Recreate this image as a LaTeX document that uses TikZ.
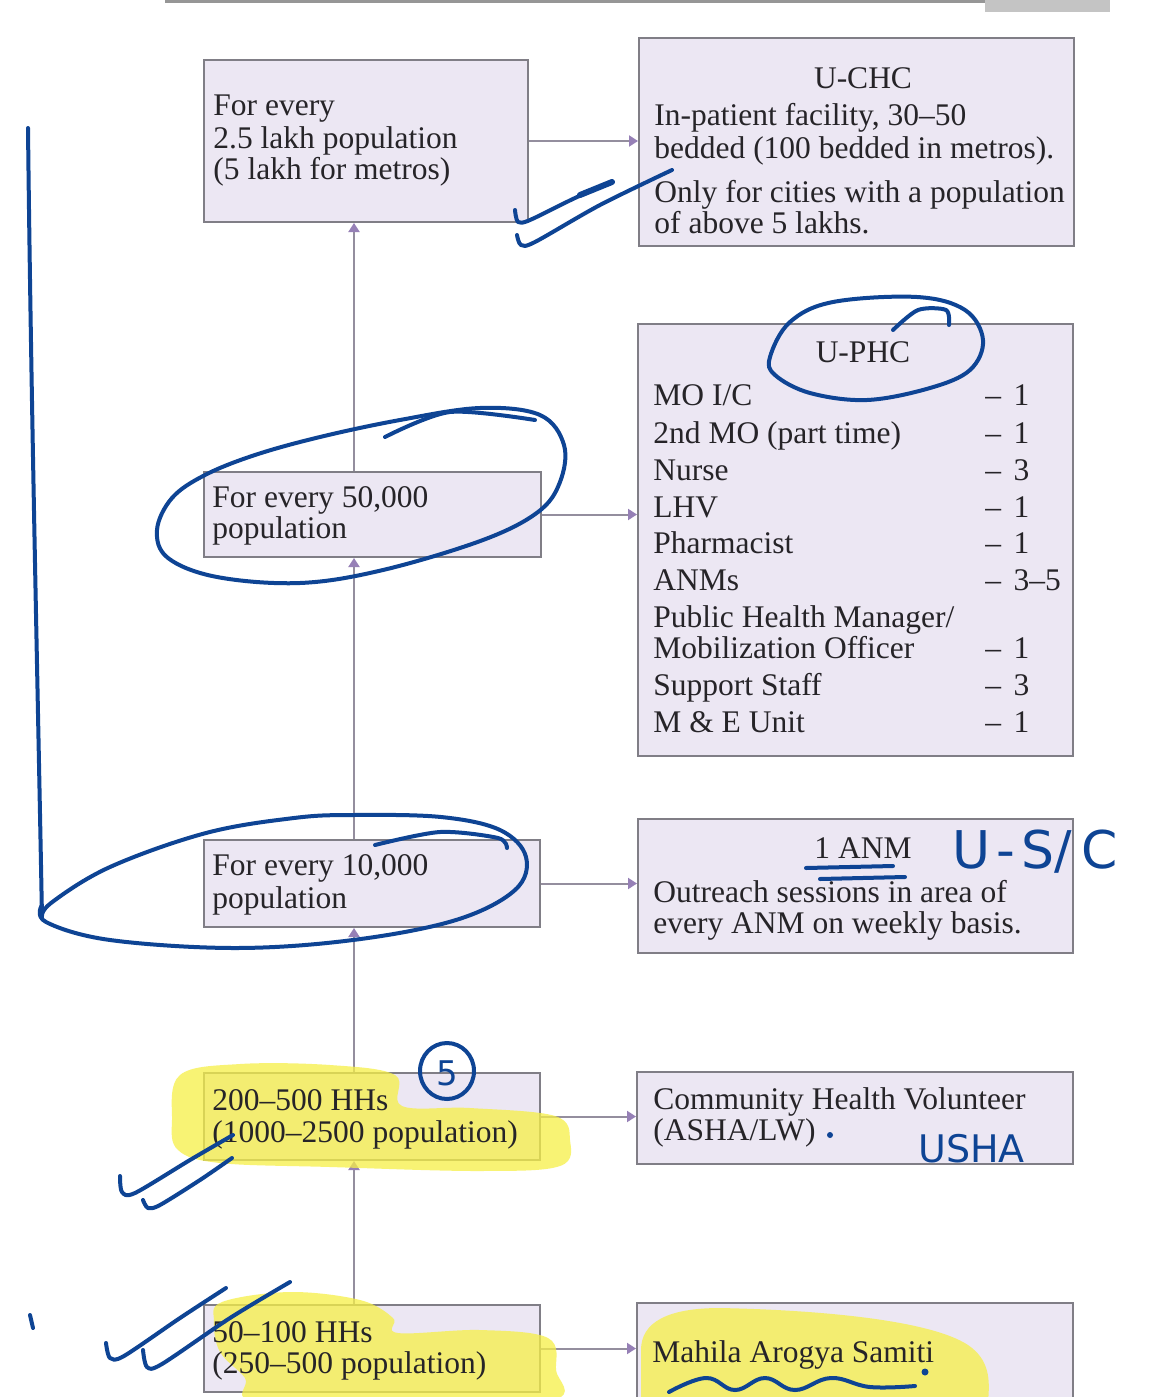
\documentclass[tikz,border=0pt]{standalone}
\usepackage{fontspec}
\setmainfont{Liberation Serif}
\newfontfamily\handfont{DejaVu Sans}
\usetikzlibrary{arrows.meta,fit}
\definecolor{boxfill}{RGB}{236,231,243}
\definecolor{boxline}{RGB}{128,126,134}
\definecolor{connline}{RGB}{148,142,158}
\definecolor{tipcol}{RGB}{150,128,182}
\definecolor{printtext}{RGB}{38,36,40}
\definecolor{ink}{RGB}{14,68,148}
\definecolor{marker}{RGB}{246,240,70}
\definecolor{pagegray}{RGB}{150,150,150}
\definecolor{pagelight}{RGB}{196,196,196}

\begin{document}
\begin{tikzpicture}[x=0.5pt,y=-0.5pt,
  box/.style={draw=boxline, line width=1pt, fill=boxfill, inner sep=0pt},
  conn/.style={draw=connline, line width=1pt, -{Triangle[length=4.5pt,width=5.5pt,color=tipcol]}},
  txt/.style={anchor=base west, inner sep=0pt, text=printtext, font=\fontsize{15.75}{16}\selectfont},
  ctxt/.style={txt, anchor=base},
  pen/.style={draw=ink, line width=2pt, line cap=round, line join=round},
  hand/.style={text=ink, inner sep=0pt, font=\handfont\fontsize{20}{20}\selectfont},
  hl/.style={fill=marker, opacity=0.75},
]
\useasboundingbox (0,0) rectangle (1152,1397);
\fill[white] (0,0) rectangle (1152,1397);
\clip (0,0) rectangle (1152,1397);

% page header strip
\fill[pagegray] (165,0) rectangle (1110,3);
\fill[pagelight] (985,0) rectangle (1110,12);

% boxes
\node[box, fit={(204,60) (528,222)}] (a) {};
\node[box, fit={(639,38) (1074,246)}] (b) {};
\node[box, fit={(204,472) (541,557)}] (c) {};
\node[box, fit={(638,324) (1073,756)}] (d) {};
\node[box, fit={(204,840) (540,927)}] (e) {};
\node[box, fit={(638,819) (1073,953)}] (f) {};
\node[box, fit={(204,1073) (540,1160)}] (g) {};
\node[box, fit={(637,1072) (1073,1164)}] (h) {};
\node[box, fit={(204,1305) (540,1392)}] (i) {};
\node[box, fit={(637,1303) (1073,1420)}] (j) {};

% connectors
\coordinate (spine) at (354,0);
\draw[conn] (i.north -| spine) -- (g.south -| spine);
\draw[conn] (g.north -| spine) -- (e.south -| spine);
\draw[conn] (e.north -| spine) -- (c.south -| spine);
\draw[conn] (c.north -| spine) -- (a.south -| spine);
\draw[conn] (a.east) -- (a.east -| b.west);
\draw[conn] (c.east) -- (c.east -| d.west);
\draw[conn] (e.east) -- (e.east -| f.west);
\draw[conn] (g.east) -- (g.east -| h.west);
\draw[conn] (i.east) -- (i.east -| j.west);

% highlighter marks
\fill[hl] plot[smooth cycle, tension=0.6] coordinates {(180,1075) (240,1064) (330,1065) (395,1075) (402,1106) (470,1108) (555,1116) (570,1140) (560,1166) (480,1171) (330,1167) (220,1163) (178,1150) (172,1120)};
\fill[hl] plot[smooth cycle, tension=0.6] coordinates {(222,1302) (290,1292) (360,1300) (393,1318) (398,1333) (480,1330) (548,1338) (556,1370) (552,1400) (400,1402) (255,1402) (245,1378) (220,1352) (214,1322)};
\fill[hl] (641,1402) -- (641,1350) .. controls (641,1322) and (668,1308) .. (720,1308)
  .. controls (820,1310) and (930,1320) .. (968,1345) .. controls (990,1360) and (990,1380) .. (988,1402) -- cycle;

% box texts
\node[txt] (a1) at (213,115) {For every};
\node[txt] (a2) at (213,148) {2.5 lakh population};
\node[txt] (a3) at (213,179) {(5 lakh for metros)};

\node[ctxt] (b0) at (863,88) {U-CHC};
\node[txt] (b1) at (654,125) {In-patient facility, 30–50};
\node[txt] (b2) at (654,158) {bedded (100 bedded in metros).};
\node[txt] (b3) at (654,202) {Only for cities with a population};
\node[txt] (b4) at (654,233) {of above 5 lakhs.};

\node[txt] (c1) at (212,507) {For every 50,000};
\node[txt] (c2) at (212,538) {population};

\node[ctxt] (d0) at (863,362) {U-PHC};
\node[txt] (d1) at (653,405) {MO I/C};
\node[txt] (d2) at (653,443) {2nd MO (part time)};
\node[txt] (d3) at (653,480) {Nurse};
\node[txt] (d4) at (653,517) {LHV};
\node[txt] (d5) at (653,553) {Pharmacist};
\node[txt] (d6) at (653,590) {ANMs};
\node[txt] (d7) at (653,627) {Public Health Manager/};
\node[txt] (d8) at (653,658) {Mobilization Officer};
\node[txt] (d9) at (653,695) {Support Staff};
\node[txt] (d10) at (653,732) {M \& E Unit};
\node[txt] (n1) at (985,405) {–\kern0.4em1};
\node[txt] (n2) at (985,443) {–\kern0.4em1};
\node[txt] (n3) at (985,480) {–\kern0.4em3};
\node[txt] (n4) at (985,517) {–\kern0.4em1};
\node[txt] (n5) at (985,553) {–\kern0.4em1};
\node[txt] (n6) at (985,590) {–\kern0.4em3–5};
\node[txt] (n8) at (985,658) {–\kern0.4em1};
\node[txt] (n9) at (985,695) {–\kern0.4em3};
\node[txt] (n10) at (985,732) {–\kern0.4em1};

\node[txt] (e1) at (212,875) {For every 10,000};
\node[txt] (e2) at (212,908) {population};

\node[ctxt] (f0) at (863,858) {1 ANM};
\node[txt] (f1) at (653,902) {Outreach sessions in area of};
\node[txt] (f2) at (653,933) {every ANM on weekly basis.};

\node[txt] (g1) at (212,1110) {200–500 HHs};
\node[txt] (g2) at (212,1142) {(1000–2500 population)};

\node[txt] (h1) at (653,1109) {Community Health Volunteer};
\node[txt] (h2) at (653,1140) {(ASHA/LW)};

\node[txt] (i1) at (212,1342) {50–100 HHs};
\node[txt] (i2) at (212,1373) {(250–500 population)};

\node[txt] (j1) at (652,1362) {Mahila Arogya Samiti};

% pen annotations
\draw[pen] (28,128) .. controls (31,400) and (38,700) .. (42,918);
\draw[pen] plot[smooth, tension=0.6] coordinates {(42,918) (51,903) (110,867) (206,833) (294,818) (353,815) (441,817) (500,830) (526,857) (515,890) (456,920) (353,940) (235,948) (110,940) (46,922) (42,905)};
\draw[pen] plot[smooth] coordinates {(375,845) (440,832) (498,838) (507,848)};

\draw[pen] plot[smooth cycle, tension=0.6] coordinates {(157,530) (172,498) (205,475) (255,455) (320,437) (400,420) (480,408) (540,415) (564,445) (560,482) (538,512) (483,540) (383,570) (300,583) (217,577) (168,558)};
\draw[pen] plot[smooth] coordinates {(385,437) (450,412) (535,420)};

\draw[pen] plot[smooth cycle, tension=0.6] coordinates {(770,357) (790,322) (833,302) (917,297) (965,310) (983,340) (970,370) (930,388) (867,400) (810,393) (775,375)};
\draw[pen] plot[smooth] coordinates {(893,330) (918,310) (946,310) (949,325)};

\draw[pen] plot[smooth, tension=0.5] coordinates {(515,210) (518,222) (530,220) (575,198) (612,182)};
\draw[pen, line width=3pt] (580,195) -- (612,182);
\draw[pen] plot[smooth, tension=0.5] coordinates {(517,235) (521,245) (535,242) (600,205) (672,170)};

\draw[pen] plot[smooth, tension=0.5] coordinates {(120,1176) (122,1192) (135,1193) (190,1160) (233,1135)};
\draw[pen] plot[smooth, tension=0.5] coordinates {(143,1200) (148,1208) (160,1205) (200,1180) (232,1158)};

\draw[pen] plot[smooth, tension=0.5] coordinates {(106,1343) (110,1358) (124,1356) (180,1318) (226,1288)};
\draw[pen] plot[smooth, tension=0.5] coordinates {(143,1350) (147,1367) (162,1364) (230,1318) (290,1282)};
\draw[pen] (30,1315) -- (33,1328);

\draw[pen] (447,1071) ellipse [x radius=27, y radius=28];
\node[hand, font=\handfont\fontsize{17}{17}\selectfont] (five) at (447,1073) {5};

\draw[pen] (806,868) -- (893,866);
\draw[pen] (820,879) -- (905,877);
\node[hand, anchor=base west, font=\handfont\fontsize{26}{26}\selectfont] (usc) at (952,868) {U\kern3pt-\kern3pt S/\kern5pt C};

\fill[ink] (830,1135) circle [radius=3];
\node[hand, anchor=base west, font=\handfont\fontsize{19}{19}\selectfont] (usha) at (918,1162) {USHA};

\draw[pen] plot[smooth, tension=0.7] coordinates {(669,1392) (706,1378) (735,1390) (765,1378) (795,1390) (831,1378) (870,1387) (915,1386)};
\fill[ink] (925,1372) circle [radius=3.5];
\end{tikzpicture}
\end{document}
